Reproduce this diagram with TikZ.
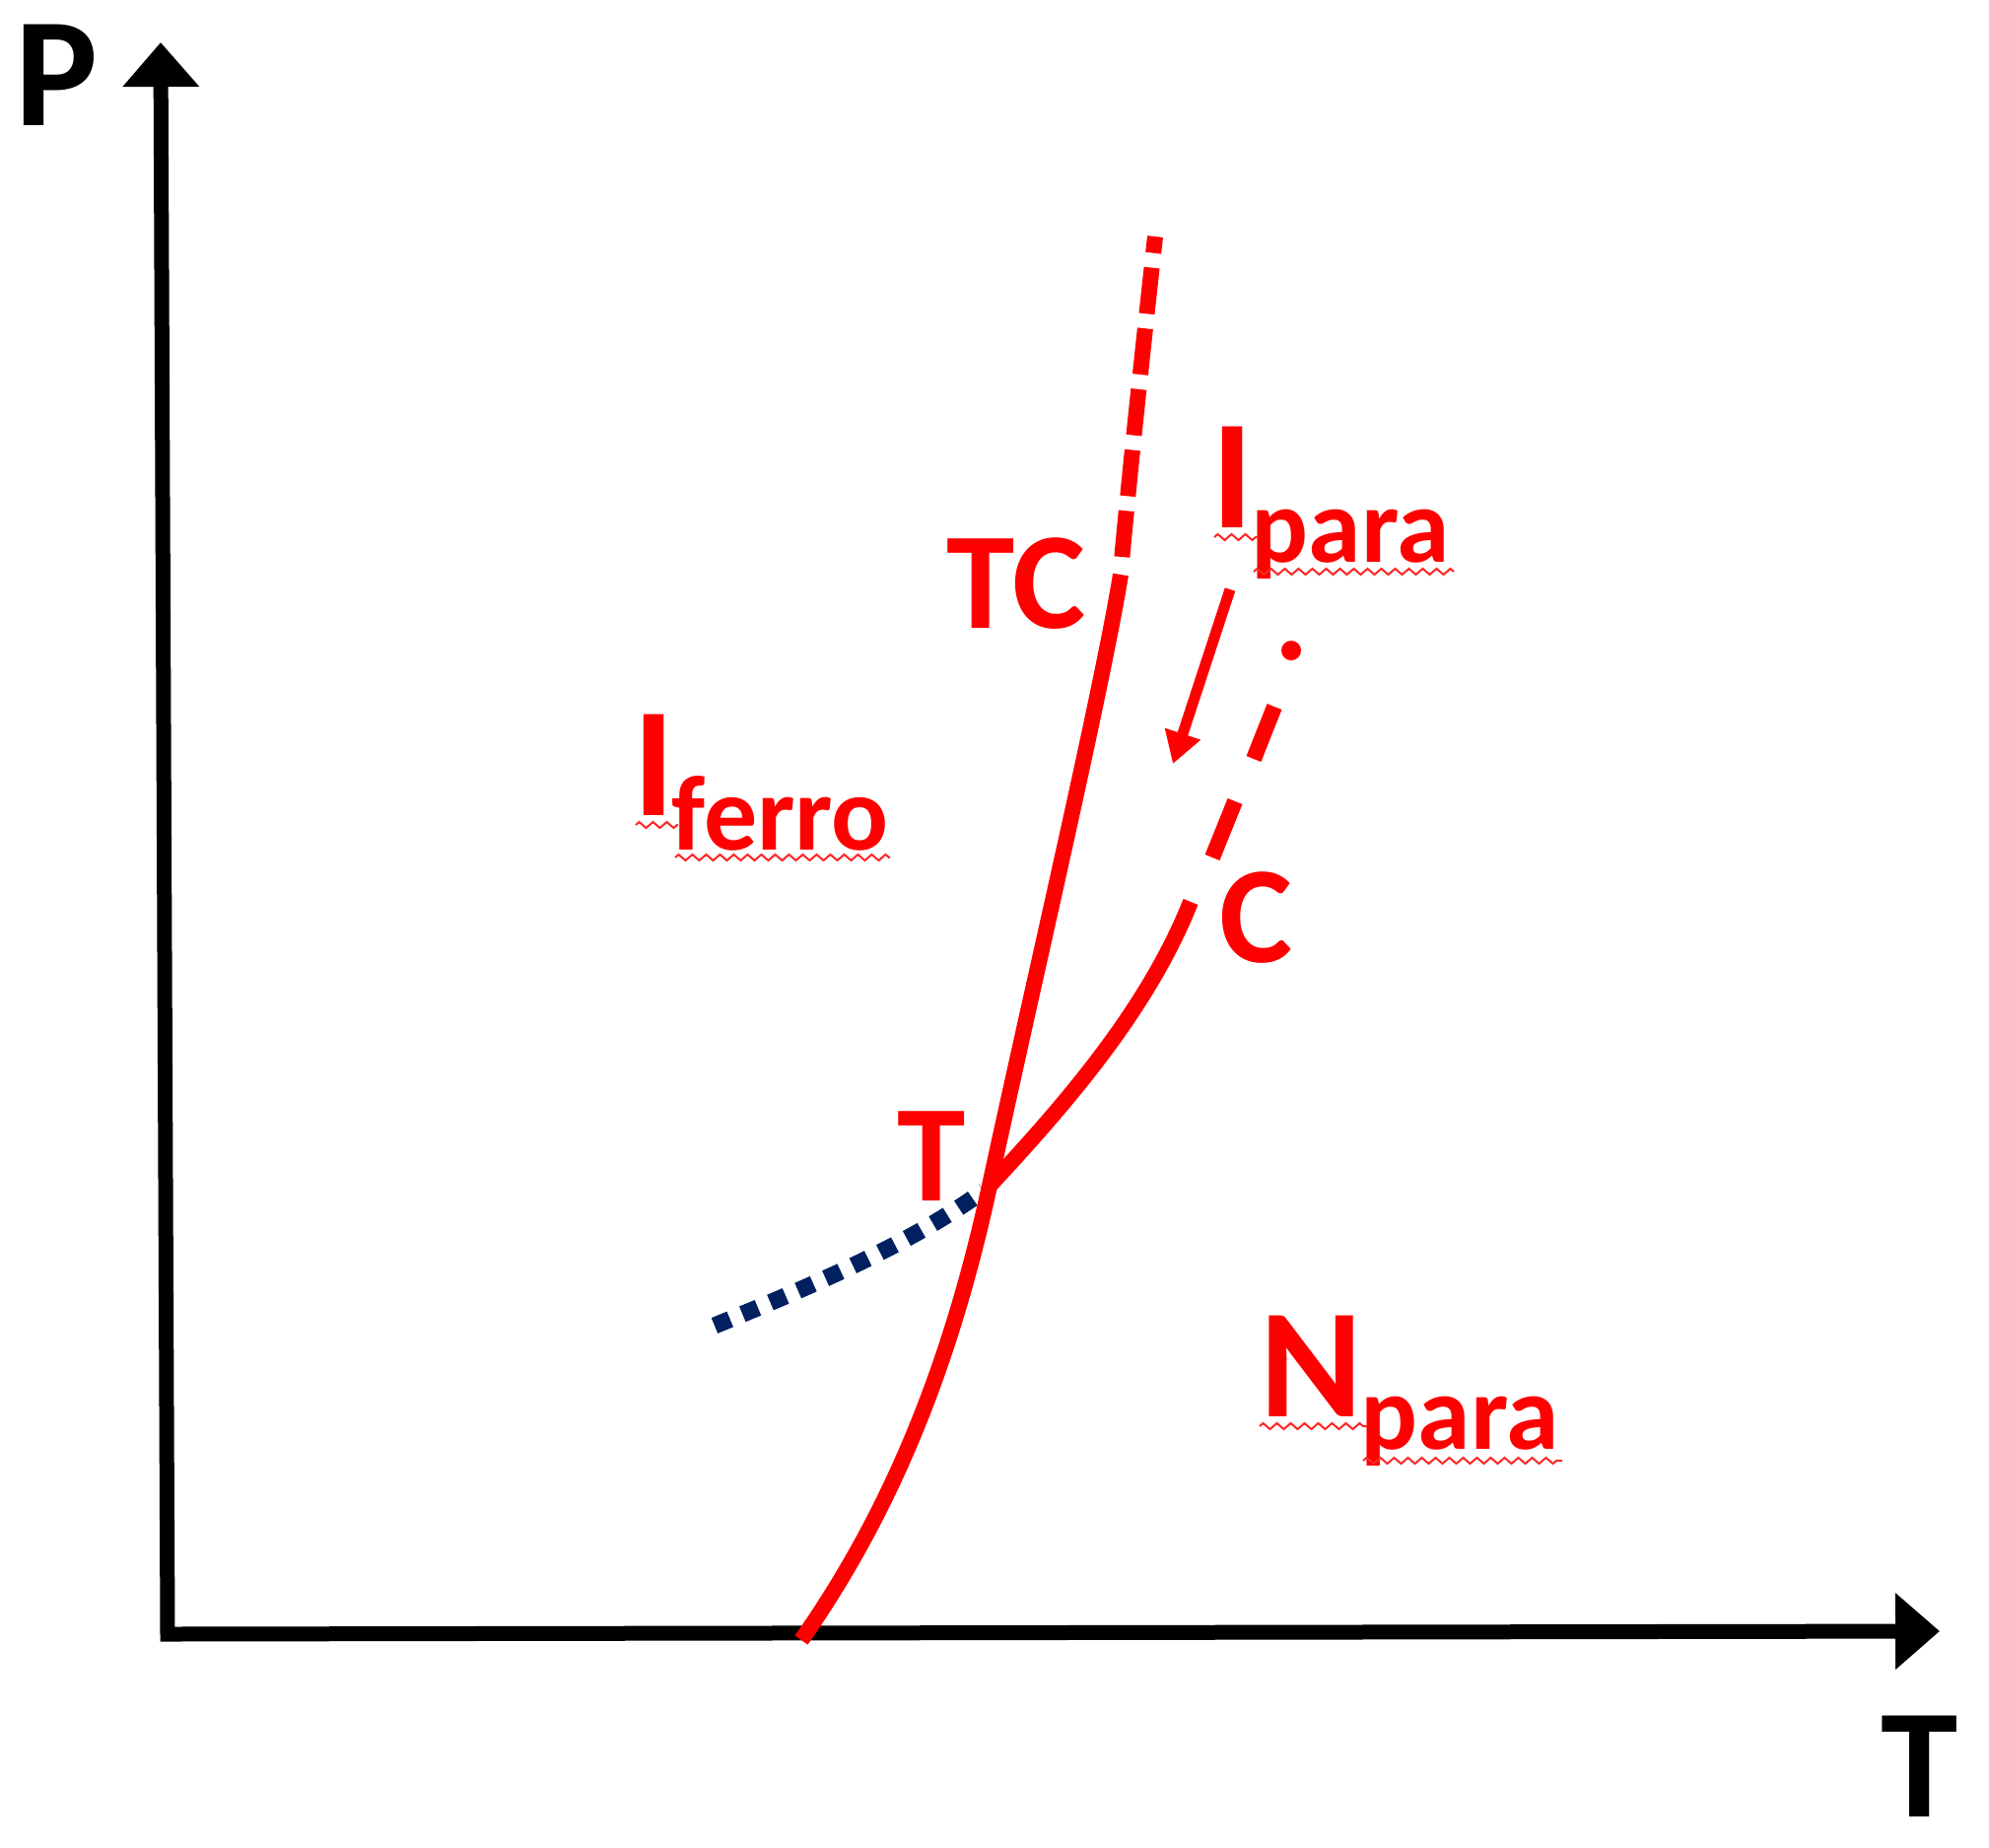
\documentclass[tikz,border=0pt]{standalone}
\usepackage{fontspec}
\setmainfont{Carlito}
\usetikzlibrary{arrows.meta,decorations.pathmorphing}
\definecolor{pred}{HTML}{FF0000}
\definecolor{navy}{HTML}{002060}
\begin{document}
\begin{tikzpicture}[x=0.5pt,y=-0.5pt,
  axis/.style={line width=7.5pt, line join=miter, draw=black,
    {Triangle[length=22.5pt,width=37.5pt]}-{Triangle[length=22.5pt,width=37.5pt]}},
  redline/.style={draw=pred, line width=8pt},
  reddash/.style={draw=pred, line width=8pt, dash pattern=on 23.5pt off 7.5pt, dash phase=23.5pt},
  navydot/.style={draw=navy, line width=8.5pt, dash pattern=on 8.5pt off 6.8pt},
  lbl/.style={text=pred, font=\bfseries\fontsize{79pt}{79pt}\selectfont, inner sep=0pt, anchor=base},
  lblm/.style={text=pred, font=\bfseries\fontsize{70pt}{70pt}\selectfont, inner sep=0pt, anchor=base},
  sub/.style={text=pred, font=\bfseries\fontsize{54pt}{54pt}\selectfont, inner sep=0pt, anchor=base},
  squig/.style={draw=pred!85, line width=1pt, decorate,
    decoration={zigzag, segment length=7pt, amplitude=1.5pt}}
]
\path[fill=white] (0,0) rectangle (2018,1874);
\useasboundingbox (0,0) rectangle (2018,1874);

% axes
\coordinate (ytip) at (163,43);
\coordinate (origin) at (170,1658);
\coordinate (xtip) at (1968,1655);
\draw[axis] (ytip) -- (origin) -- (xtip);

% dotted navy line
\coordinate (tp) at (1004,1203);
\coordinate (dstart) at (725,1345);
\draw[navydot] (dstart) .. controls (810,1310) and (920,1265) .. (998,1208);

% main red curve
\coordinate (cbot) at (813,1664);
\coordinate (ctop) at (1137,583);
\draw[redline] (cbot) .. controls (900,1540) and (963,1393) .. (tp)
  .. controls (1050,990) and (1118,700) .. (ctop);
\draw[reddash] (1137,580) .. controls (1147,470) and (1160,350) .. (1172,240);

% branch to critical point
\coordinate (cp) at (1208,915);
\draw[redline] (tp) .. controls (1084,1117) and (1165,1023) .. (cp);
\draw[redline] (1230,870) -- (1253,813);
\draw[redline] (1272,770) -- (1293,717);
\fill[pred] (1310,660) circle (10);

% red arrow
\coordinate (astart) at (1248,598);
\coordinate (aend) at (1190,775);
\draw[draw=pred, line width=5.5pt, -{Triangle[length=16pt,width=18pt]}] (astart) -- (aend);

% labels
\node[lbl, text=black] (P) at (58,127) {P};
\node[lbl, text=black, text depth=0pt] (Tax) at (1948,1843) {T};
\node[lblm] (TC) at (1031,637) {TC};
\node[lblm] (Tp) at (945,1218) {T};
\node[lblm] (C) at (1275,976) {C};
\node[lbl] (Ip) at (1251,535) {I};
\node[sub] (Ips) at (1370,570) {para};
\node[lbl] (If) at (664,827) {I};
\node[sub] (Ifs) at (792,862) {ferro};
\node[lbl] (N) at (1331,1437) {N};
\node[sub] (Ns) at (1481,1470) {para};

% spell-check squiggles
\draw[squig] (1232,545) -- (1277,545);
\draw[squig] (1272,580) -- (1475,580);
\draw[squig] (645,837) -- (688,837);
\draw[squig] (685,870) -- (903,870);
\draw[squig] (1278,1447) -- (1387,1447);
\draw[squig] (1383,1482) -- (1585,1482);
\end{tikzpicture}
\end{document}
